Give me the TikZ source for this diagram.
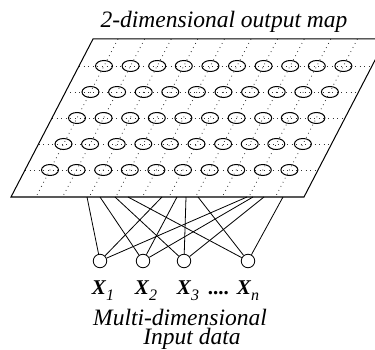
\documentclass[tikz,border=0pt]{standalone}
\usepackage{fontspec}
\setmainfont{Liberation Serif}
\usepackage{tikz}
\usetikzlibrary{shapes.geometric}
\definecolor{dotgray}{HTML}{333333}
\newcommand\xsub[1]{\textbf{\textit{X}}\raisebox{-6pt}{\fontsize{16}{16}\selectfont\itshape #1}}
\tikzset{
  sheet/.style={draw=black,line width=1pt,line join=miter},
  gridline/.style={draw=dotgray,line width=0.8pt,dash pattern=on 0.8pt off 3.8pt},
  unit/.style={ellipse,draw=black,line width=1pt,inner sep=0pt,
    minimum width=17pt,minimum height=11pt},
  input/.style={circle,draw=black,fill=white,line width=0.85pt,inner sep=0pt,
    minimum size=13.5pt},
  link/.style={draw=black,line width=0.8pt},
  caption/.style={font=\fontsize{23.5}{26}\selectfont\itshape,inner sep=0pt,anchor=base},
  xlab/.style={font=\fontsize{21}{21}\selectfont,inner sep=0pt,anchor=base}
}

\begin{document}
\begin{tikzpicture}[x=1pt,y=-1pt]
  \useasboundingbox (0,0) rectangle (375,350);
  % grid of the output map
  \foreach \r in {0,...,4}{
    \pgfmathsetmacro\yy{66+26*\r}
    \pgfmathsetmacro\xl{11+(197-\yy)*0.519}
    \draw[gridline] (\xl,\yy) -- ++(293,0);
  }
  \foreach \c in {0,...,9}{
    \pgfmathsetmacro\xx{104+26.6*\c}
    \draw[gridline] (\xx+14,39) -- (\xx-68,197);
  }
  \foreach \r in {0,...,4}
    \foreach \c in {0,...,9}
      \node[unit] (u\r\c) at ({104+26.6*\c-13.5*\r},{66+26*\r}) {};
  \draw[sheet] (11,197) -- (304,197) -- (386,39) -- (93,39) -- cycle;
  \node[caption] (title) at (224,28) {2-dimensional output map};

  % input layer
  \foreach \i/\x in {1/100,2/143,3/184,n/248}
    \node[input] (x\i) at (\x,261) {};
  \foreach \i/\a/\b/\c in {1/87/162/247,2/100/177/253,3/115/186/264,n/128/198/283}{
    \coordinate (a\i) at (\a,197);
    \coordinate (b\i) at (\b,197);
    \coordinate (c\i) at (\c,197);
    \draw[link] (a\i) -- (x\i);
    \draw[link] (b\i) -- (x\i);
    \draw[link] (c\i) -- (x\i);
  }
  \node[xlab] (l1) at (103,294) {\xsub{1}};
  \node[xlab] (l2) at (146,294) {\xsub{2}};
  \node[xlab] (l3) at (188,294) {\xsub{3}};
  \node[xlab] (dots) at (219,294) {\textbf{\textit{....}}};
  \node[xlab] (ln) at (248,294) {\xsub{n}};
  \node[caption] (multi) at (180,325) {Multi-dimensional};
  \node[caption] (data) at (192,344) {Input data};
\end{tikzpicture}
\end{document}
